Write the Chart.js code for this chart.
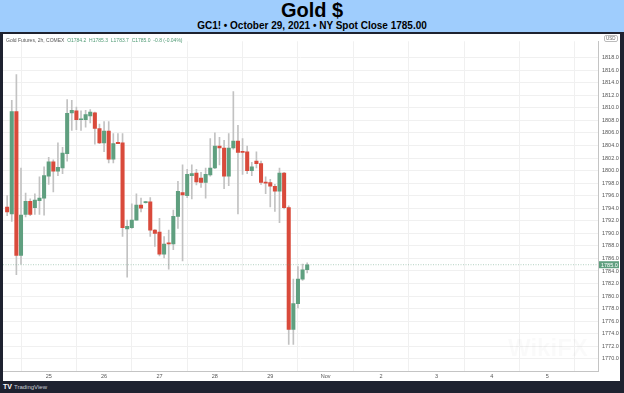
<!DOCTYPE html>
<html>
<head>
<meta charset="utf-8">
<script src="https://cdn.jsdelivr.net/npm/chart.js@4.4.0/dist/chart.umd.min.js"></script>
<style>
  html, body { margin: 0; padding: 0; }
  body { width: 624px; height: 393px; background: #1e2230; position: relative; overflow: hidden; font-family: "Liberation Sans", Arial, sans-serif; }
  #header { position: absolute; left: 0; top: 0; width: 624px; height: 32px; background: #9fcdfd; }
  #title { position: absolute; left: 0; top: 0; width: 624px; text-align: center; font-weight: bold; font-size: 20px; line-height: 20px; color: #000; }
  #subtitle { position: absolute; left: 0; top: 21px; width: 624px; text-align: center; font-weight: bold; font-size: 10px; line-height: 10px; color: #000; }
  #panel { position: absolute; left: 3px; top: 34px; width: 617px; height: 347px; background: #fff; }
  #chart { position: absolute; left: 0; top: 0; }
  #legend { position: absolute; left: 3px; top: 3px; font-size: 5px; line-height: 6px; color: #555; white-space: nowrap; }
  #legend span { color: #4f9a74; }
  #usd { position: absolute; left: 601px; top: 1px; font-size: 4.5px; line-height: 5px; color: #666; border: 0.5px solid #bbb; border-radius: 2px; padding: 0 1px; }
  #wm { position: absolute; left: 505px; top: 300px; font-size: 24px; font-weight: bold; color: rgba(0,0,0,0.02); }
  #footer { position: absolute; left: 3px; top: 383px; font-size: 6px; line-height: 8px; color: #c9ccd6; }
  #footer b { color: #fff; font-size: 7px; margin-right: 2px; }
</style>
</head>
<body>
<div id="header">
  <div id="title">Gold $</div>
  <div id="subtitle">GC1! • October 29, 2021 • NY Spot Close 1785.00</div>
</div>
<div id="panel">
  <canvas id="chart" width="617" height="347"></canvas>
  <div id="legend">Gold Futures, 2h, COMEX&nbsp; <span>O1784.2&nbsp; H1785.3&nbsp; L1783.7&nbsp; C1785.0&nbsp; -0.8 (-0.04%)</span></div>
  <div id="usd">USD</div>
  <div id="wm">WikiFX</div>
</div>
<div id="footer"><b>TV</b>TradingView</div>

<script>
// 2h candles (index 0 = first visible bar)
const openV  = [1794.2, 1793.1, 1809.4, 1786.5, 1793.0, 1795.1, 1794.1, 1795.2, 1795.6, 1799.1,
                1801.4, 1799.9, 1800.4, 1802.7, 1809.2, 1809.5, 1808.1, 1808.1, 1808.7, 1809.2,
                1806.7, 1804.4, 1806.3, 1801.8, 1804.5, 1804.4, 1790.7, 1790.9, 1792.1, 1794.5,
                1794.9, 1795.0, 1790.5, 1790.2, 1786.7, 1788.5, 1788.3, 1792.7, 1796.5, 1796.0,
                1799.2, 1799.6, 1798.8, 1798.1, 1799.3, 1800.4, 1803.9, 1803.6, 1799.1, 1803.6,
                1804.7, 1803.0, 1803.0, 1800.0, 1801.5, 1801.1, 1798.1, 1798.1, 1797.5, 1796.7,
                1799.6, 1794.1, 1774.7, 1778.8, 1782.7, 1784.2];
const highV  = [1796.0, 1811.2, 1815.3, 1800.4, 1796.4, 1795.5, 1796.3, 1799.0, 1800.6, 1802.1,
                1801.7, 1804.4, 1803.7, 1811.3, 1811.2, 1810.1, 1809.5, 1809.6, 1809.7, 1809.3,
                1807.4, 1807.8, 1807.8, 1805.9, 1805.9, 1805.9, 1792.1, 1794.7, 1796.3, 1795.6,
                1795.1, 1795.7, 1790.6, 1792.4, 1789.5, 1790.5, 1793.7, 1798.3, 1800.9, 1800.2,
                1800.9, 1800.2, 1799.7, 1800.4, 1805.1, 1806.0, 1805.3, 1804.8, 1805.9, 1812.6,
                1807.2, 1805.1, 1803.9, 1801.3, 1803.0, 1801.5, 1799.0, 1798.6, 1797.8, 1800.4,
                1799.7, 1794.4, 1782.7, 1784.7, 1785.1, 1785.3];
const lowV   = [1792.8, 1791.9, 1783.4, 1785.1, 1792.6, 1792.8, 1793.0, 1793.0, 1792.9, 1797.8,
                1796.6, 1799.2, 1799.5, 1801.5, 1806.4, 1806.5, 1806.4, 1806.9, 1807.6, 1804.2,
                1804.3, 1803.0, 1801.2, 1801.2, 1804.3, 1789.5, 1783.0, 1790.8, 1792.1, 1793.4,
                1794.8, 1789.5, 1787.9, 1786.4, 1786.1, 1784.3, 1787.4, 1790.8, 1785.6, 1795.7,
                1795.5, 1797.7, 1797.3, 1795.6, 1799.1, 1800.3, 1800.9, 1797.1, 1797.6, 1803.4,
                1793.1, 1799.4, 1799.5, 1799.2, 1800.4, 1797.8, 1796.3, 1794.2, 1793.5, 1791.7,
                1793.9, 1772.3, 1772.3, 1778.1, 1782.5, 1783.7];
const closeV = [1793.4, 1809.4, 1786.5, 1792.9, 1795.1, 1793.0, 1795.3, 1795.6, 1799.2, 1801.4,
                1799.9, 1800.5, 1802.8, 1809.1, 1809.6, 1808.1, 1808.2, 1808.9, 1809.3, 1806.7,
                1804.4, 1806.3, 1801.8, 1804.3, 1804.3, 1790.9, 1791.1, 1792.1, 1794.5, 1794.0,
                1795.0, 1790.5, 1790.0, 1786.7, 1788.3, 1788.3, 1792.7, 1796.7, 1796.1, 1799.4,
                1799.5, 1798.2, 1798.1, 1799.4, 1800.4, 1803.9, 1803.6, 1799.1, 1803.6, 1804.7,
                1802.9, 1802.9, 1800.0, 1800.6, 1801.1, 1798.1, 1798.0, 1797.5, 1796.7, 1799.6,
                1794.1, 1774.7, 1778.8, 1782.7, 1784.2, 1785.0];

// day separators (bar index where each day starts) and their labels
const dayTickPos = [9, 21, 33, 45, 57, 69, 81, 93, 105, 117];
const dayLabels  = ['25', '26', '27', '28', '29', 'Nov', '2', '3', '4', '5'];

// price axis ticks
const yTicks = [1770, 1772, 1774, 1776, 1778, 1780, 1782, 1784, 1786, 1788, 1790, 1792, 1794,
                1796, 1798, 1800, 1802, 1804, 1806, 1808, 1810, 1812, 1814, 1816, 1818];

const upColor = '#5f9f7f';
const downColor = '#d94a3b';
const colors = openV.map((o, i) => closeV[i] >= o ? upColor : downColor);

const lastPricePlugin = {
    id: 'lastPrice',
    afterDatasetsDraw(chart) {
        const { ctx, chartArea, scales } = chart;
        const last = closeV[closeV.length - 1];
        const y = scales.y.getPixelForValue(last);
        ctx.save();
        ctx.strokeStyle = 'rgba(95,159,127,0.6)';
        ctx.lineWidth = 0.8;
        ctx.setLineDash([1, 1.5]);
        ctx.beginPath();
        ctx.moveTo(chartArea.left, y);
        ctx.lineTo(chartArea.right, y);
        ctx.stroke();
        ctx.setLineDash([]);
        ctx.fillStyle = upColor;
        ctx.fillRect(chartArea.right + 1, y - 3.5, 20, 7);
        ctx.fillStyle = '#fff';
        ctx.font = '5.5px "Liberation Sans", Arial, sans-serif';
        ctx.textBaseline = 'middle';
        ctx.fillText(last.toFixed(1), chartArea.right + 3, y + 0.3);
        ctx.restore();
    }
};

new Chart(document.getElementById('chart'), {
    type: 'bar',
    data: {
        datasets: [
            {
                label: 'body',
                data: openV.map((o, i) => ({ x: i, y: [o, closeV[i]] })),
                backgroundColor: colors,
                borderWidth: 0,
                barThickness: 3.4,
                minBarLength: 1,
                grouped: false,
                order: 0
            },
            {
                label: 'wick',
                data: lowV.map((l, i) => ({ x: i, y: [l, highV[i]] })),
                backgroundColor: '#c2c2c2',
                borderWidth: 0,
                barThickness: 1,
                grouped: false,
                order: 1
            }
        ]
    },
    options: {
        responsive: false,
        animation: false,
        layout: { padding: 0 },
        plugins: { legend: { display: false }, tooltip: { enabled: false } },
        scales: {
            x: {
                type: 'linear',
                min: -0.9,
                max: 128,
                offset: false,
                grid: { color: '#f0f0f0', drawTicks: false },
                border: { color: '#c4c4c4' },
                ticks: {
                    font: { size: 5.5, family: '"Liberation Sans", Arial, sans-serif' },
                    color: '#555',
                    padding: 2,
                    maxRotation: 0,
                    autoSkip: false,
                    callback: v => dayLabels[dayTickPos.indexOf(v)]
                },
                afterBuildTicks: s => { s.ticks = dayTickPos.map(v => ({ value: v })); },
                afterFit: s => { s.height = 10; }
            },
            y: {
                type: 'linear',
                position: 'right',
                min: 1768.07,
                max: 1820.59,
                grid: { color: '#f0f0f0', drawTicks: false },
                border: { color: '#c4c4c4' },
                ticks: {
                    font: { size: 5.5, family: '"Liberation Sans", Arial, sans-serif' },
                    color: '#555',
                    padding: 4,
                    callback: v => v.toFixed(1)
                },
                afterBuildTicks: s => { s.ticks = yTicks.map(v => ({ value: v })); },
                afterFit: s => { s.width = 22; }
            }
        }
    },
    plugins: [lastPricePlugin]
});
</script>
</body>
</html>
